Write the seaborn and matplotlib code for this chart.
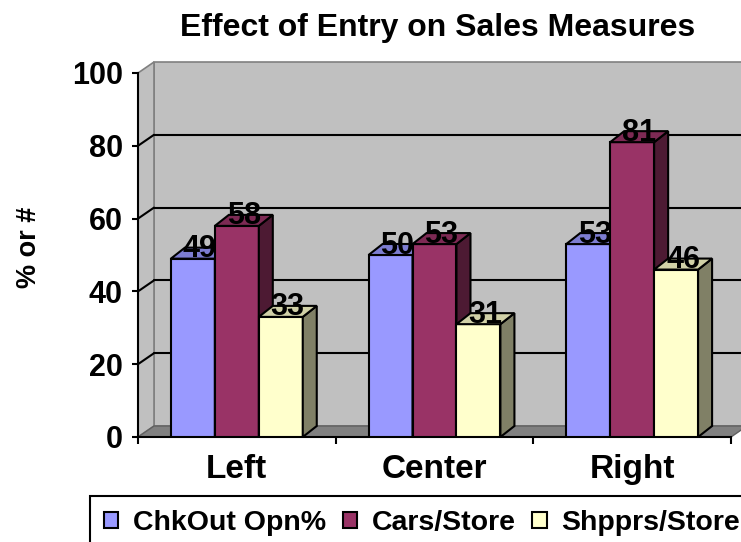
import numpy as np
import pandas as pd
import matplotlib
matplotlib.use("Agg")
import matplotlib.pyplot as plt
from matplotlib.patches import Polygon, Rectangle
from matplotlib.colors import to_rgb
import seaborn as sns

# Datos del gráfico
positions = ["Left", "Center", "Right"]
measures = ["ChkOut Opn%", "Cars/Store", "Shpprs/Store"]
chkout_opn = [49, 50, 53]
cars_store = [58, 53, 81]
shpprs_store = [33, 31, 46]
y_ticks = [0, 20, 40, 60, 80, 100]

colors = ["#9999FF", "#993366", "#FFFFCC"]

df = pd.DataFrame({
    "Position": positions * 3,
    "Measure": [m for m in measures for _ in positions],
    "Value": chkout_opn + cars_store + shpprs_store,
})

sns.set_style("white")
plt.rcParams["font.family"] = ["Liberation Sans", "DejaVu Sans"]
plt.rcParams["font.weight"] = "bold"
plt.rcParams["text.color"] = "black"
plt.rcParams["xtick.color"] = "black"
plt.rcParams["ytick.color"] = "black"
plt.rcParams["axes.labelcolor"] = "black"

W, H = 741, 542
fig = plt.figure(figsize=(W / 100, H / 100), dpi=100)
x0_px, x1_px, y_top_px, y_bot_px = 138, 731, 73, 437
ax = fig.add_axes([x0_px / W, 1 - y_bot_px / H, (x1_px - x0_px) / W, (y_bot_px - y_top_px) / H])
ax.set_facecolor("none")

sns.barplot(data=df, x="Position", y="Value", hue="Measure", palette=colors,
            width=0.667, edgecolor="black", linewidth=1.5, saturation=1,
            ax=ax, legend=True)
ax.set_xlim(-0.5, 2.5)
ax.set_ylim(0, 100)

bars = [b for b in ax.patches if isinstance(b, Rectangle) and b.get_height() > 0]
bars = sorted(bars, key=lambda r: r.get_x())

# pixeles -> unidades de datos
ux = 3 / (x1_px - x0_px)
uy = 100 / (y_bot_px - y_top_px)
wdx, wdy = 16 * ux, 11 * uy   # profundidad de la pared
bdx, bdy = 14 * ux, 11 * uy   # profundidad de las barras

# Pared trasera, lateral y suelo
back = Polygon([(-0.5 + wdx, wdy), (2.5 + wdx, wdy), (2.5 + wdx, 100 + wdy), (-0.5 + wdx, 100 + wdy)],
               closed=True, facecolor="#C0C0C0", edgecolor="#808080", lw=1.2, clip_on=False, zorder=0.5)
side = Polygon([(-0.5, 0), (-0.5 + wdx, wdy), (-0.5 + wdx, 100 + wdy), (-0.5, 100)],
               closed=True, facecolor="#C0C0C0", edgecolor="#808080", lw=1.2, clip_on=False, zorder=0.6)
floor = Polygon([(-0.5, 0), (2.5, 0), (2.5 + wdx, wdy), (-0.5 + wdx, wdy)],
                closed=True, facecolor="#808080", edgecolor="#606060", lw=1, clip_on=False, zorder=0.7)
for p in (back, side, floor):
    ax.add_patch(p)

for v in y_ticks[1:-1]:
    ax.plot([-0.5 + wdx, 2.5 + wdx], [v + wdy, v + wdy], color="black", lw=1.5, clip_on=False, zorder=1)
    ax.plot([-0.5, -0.5 + wdx], [v, v + wdy], color="black", lw=1.5, clip_on=False, zorder=1)

# Caras laterales y superiores de las barras
for i, b in enumerate(bars):
    z = 3 + i
    bx, bw, bh = b.get_x(), b.get_width(), b.get_height()
    fc = np.array(to_rgb(b.get_facecolor()))
    b.set_zorder(z)
    ax.add_patch(Polygon([(bx + bw, 0), (bx + bw + bdx, bdy), (bx + bw + bdx, bh + bdy), (bx + bw, bh)],
                         closed=True, facecolor=fc * 0.5, edgecolor="black", lw=1.5, zorder=z, clip_on=False))
    ax.add_patch(Polygon([(bx, bh), (bx + bdx, bh + bdy), (bx + bw + bdx, bh + bdy), (bx + bw, bh)],
                         closed=True, facecolor=fc * 0.82, edgecolor="black", lw=1.5, zorder=z, clip_on=False))
    ax.annotate(f"{bh:.0f}", xy=(bx + bw / 2, bh), xytext=(5, 1), textcoords="offset points",
                ha="center", va="baseline", fontsize=22, fontweight="bold", color="black", zorder=100)

# Ejes
ax.set_yticks(y_ticks)
ax.tick_params(axis="y", length=4, width=1.5, pad=7, labelsize=22, direction="out", left=True)
ax.set_xticks(range(3))
ax.set_xticklabels(positions)
ax.set_xticks([-0.5, 0.5, 1.5, 2.5], minor=True)
ax.tick_params(axis="x", which="major", length=0, pad=12, labelsize=24)
ax.tick_params(axis="x", which="minor", length=5, width=1.5, direction="out", bottom=True)
for lbl in ax.get_xticklabels() + ax.get_yticklabels():
    lbl.set_fontweight("bold")
for s in ["top", "right"]:
    ax.spines[s].set_visible(False)
for s in ["left", "bottom"]:
    ax.spines[s].set_color("black")
    ax.spines[s].set_linewidth(1.5)
    ax.spines[s].set_zorder(2)

ax.set_xlabel("")
ax.set_ylabel("% or #", fontsize=19.5, fontweight="bold")
ax.yaxis.set_label_coords(-0.162, 0.52)

fig.text(438 / W, 1 - 36 / H, "Effect of Entry on Sales Measures", ha="center", va="baseline",
         fontsize=23, fontweight="bold")

leg = ax.get_legend()
handles = leg.legend_handles
labels = [t.get_text() for t in leg.get_texts()]
leg.remove()
fig.legend(handles, labels, loc="upper left", bbox_to_anchor=(90 / W, 1 - 496 / H), ncol=3,
           frameon=True, fancybox=False, edgecolor="black", framealpha=1, borderaxespad=0,
           handlelength=0.5, handleheight=0.5, handletextpad=0.5, columnspacing=0.6,
           borderpad=0.5, prop={"size": 20.5, "weight": "bold"})
fig.legends[0].get_frame().set_linewidth(1.5)

plt.savefig("out.png", dpi=100)
